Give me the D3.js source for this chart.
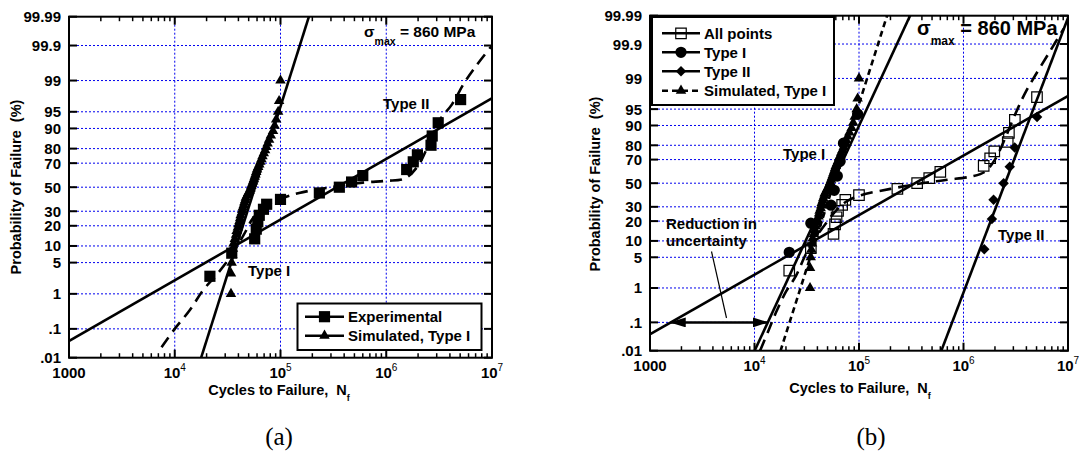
<!DOCTYPE html>
<html>
<head>
<meta charset="utf-8">
<script src="https://cdn.jsdelivr.net/npm/d3@7"></script>
<style>
  body { margin: 0; background: #fff; }
  svg text { font-family: "Liberation Sans", Arial, sans-serif; font-weight: bold; fill: #000; }
</style>
</head>
<body>
<svg id="chart" width="1079" height="454"></svg>
<script>
// ---- data ----
const probTicks = [0.01, 0.1, 1, 5, 10, 20, 30, 50, 70, 80, 90, 95, 99, 99.9, 99.99];
const probTickLabels = [".01", ".1", "1", "5", "10", "20", "30", "50", "70", "80", "90", "95", "99", "99.9", "99.99"];
const cycleDecades = [1e3, 1e4, 1e5, 1e6, 1e7];
const cycleExponents = ["1000", "4", "5", "6", "7"];

// experimental (all points), cycles and probability %
const expCycles = [21500, 34600, 57000, 59000, 61000, 63000, 69000, 74000, 100000, 233000,
                   360000, 470000, 600000, 1560000, 1800000, 1970000, 2650000, 2720000, 3100000, 5050000];
const expProb   = [2.6, 7.5, 13, 18, 22.5, 27, 31.5, 35.5, 39.5, 45,
                   50, 54.5, 60, 65, 71, 76, 82, 86.8, 92, 97.2];

// type I / type II subsets (panel b)
const typeICycles = [21500, 34600, 54000, 58000, 62000, 66000, 71000, 97000];
const typeIProb   = [6.25, 18.75, 31.25, 43.75, 56.25, 68.75, 81.25, 93.75];
const typeIICycles = [1580000, 1870000, 1940000, 2420000, 2770000, 3090000, 5060000];
const typeIIProb   = [7.1, 21.4, 35.7, 50, 64.3, 78.6, 92.9];

// simulated type I
const simProb = [1, 3, 5, 7, 9, 11, 13, 15, 17, 19, 21, 23, 25, 27, 29, 31, 33, 35, 37, 39,
                 41, 43, 45, 47, 49, 51, 53, 55, 57, 59, 61, 63, 65, 67, 69, 71, 73, 75, 77, 79,
                 81, 83, 85, 87, 89, 91, 93, 95, 97, 99];
const simCycles = [34000, 34000, 34500, 35000, 35500, 36000, 37000, 38000, 38500, 39500,
                   40000, 41000, 41500, 42000, 43000, 43500, 44000, 45000, 45500, 46500,
                   47000, 48500, 49500, 51000, 52000, 53000, 54000, 55000, 56000, 57000,
                   58000, 59000, 60000, 61500, 63000, 64500, 66000, 67500, 69500, 71500,
                   73500, 75500, 78000, 81000, 85000, 88000, 91000, 95000, 97000, 100000];

// lognormal fits [mean log10 N, sd log10 N]
const allPointsFit = [5.535, 0.756];
const simulatedFit = [4.759, 0.137];
const typeIFit = [4.745, 0.200];
const typeIIFit = [6.398, 0.164];

// bimodal fit curves (cycles, probability %)
const bimodalACycles = [7500, 10000, 13900, 18600, 24900, 34600, 45000, 55000, 70000, 100000, 150000,
                        300000, 600000, 1000000, 1500000, 2000000, 2500000, 3200000, 4200000, 5400000, 7100000, 10000000];
const bimodalAProb   = [0.024, 0.1, 0.37, 1.25, 2.8, 7, 15, 25, 33, 40, 45,
                        50, 54, 55.5, 57.5, 68, 82, 92.8, 96.5, 98.8, 99.6, 99.9];
const bimodalBCycles = [11300, 13500, 16000, 20000, 25000, 30000, 35000, 42000, 50000, 60000, 75000, 100000,
                        200000, 400000, 700000, 1200000, 1600000, 2000000, 2500000, 3100000, 4000000, 6800000, 9100000];
const bimodalBProb   = [0.01, 0.05, 0.2, 0.8, 2, 5, 9, 14, 20, 27, 34, 39,
                        45, 50, 53, 56, 60, 70, 84, 93.5, 98, 99.84, 99.97];

// ---- helpers ----
function probit(p) {
  const a = [-3.969683028665376e+01, 2.209460984245205e+02, -2.759285104469687e+02, 1.383577518672690e+02, -3.066479806614716e+01, 2.506628277459239e+00];
  const b = [-5.447609879822406e+01, 1.615858368580409e+02, -1.556989798598866e+02, 6.680131188771972e+01, -1.328068155288572e+01];
  const c = [-7.784894002430293e-03, -3.223964580411365e-01, -2.400758277161838e+00, -2.549732539343734e+00, 4.374664141464968e+00, 2.938163982698783e+00];
  const d = [7.784695709041462e-03, 3.224671290700398e-01, 2.445134137142996e+00, 3.754408661907416e+00];
  const pl = 0.02425;
  let q, r;
  if (p < pl) {
    q = Math.sqrt(-2 * Math.log(p));
    return (((((c[0]*q+c[1])*q+c[2])*q+c[3])*q+c[4])*q+c[5]) / ((((d[0]*q+d[1])*q+d[2])*q+d[3])*q+1);
  }
  if (p > 1 - pl) {
    q = Math.sqrt(-2 * Math.log(1 - p));
    return -(((((c[0]*q+c[1])*q+c[2])*q+c[3])*q+c[4])*q+c[5]) / ((((d[0]*q+d[1])*q+d[2])*q+d[3])*q+1);
  }
  q = p - 0.5; r = q * q;
  return (((((a[0]*r+a[1])*r+a[2])*r+a[3])*r+a[4])*r+a[5])*q / (((((b[0]*r+b[1])*r+b[2])*r+b[3])*r+b[4])*r+1);
}

const svg = d3.select("#chart");
const defs = svg.append("defs");
defs.append("marker").attr("id", "arrowhead")
    .attr("viewBox", "0 0 16 10").attr("refX", 15).attr("refY", 5)
    .attr("markerWidth", 16).attr("markerHeight", 10).attr("markerUnits", "userSpaceOnUse")
    .attr("orient", "auto-start-reverse")
  .append("path").attr("d", "M0,0 L16,5 L0,10 Z").attr("fill", "#000");

const zip = (xs, ps) => xs.map((n, i) => ({n: n, p: ps[i]}));

function drawPanel(cfg) {
  const g = svg.append("g");
  const x = d3.scaleLog().domain([1e3, 1e7]).range([cfg.x0, cfg.x1]);
  const z = d3.scaleLinear().domain([probit(0.0001), probit(0.9999)]).range([cfg.y1, cfg.y0]);
  const yp = pct => z(probit(pct / 100));

  defs.append("clipPath").attr("id", cfg.id + "-clip")
    .append("rect").attr("x", cfg.x0).attr("y", cfg.y0)
    .attr("width", cfg.x1 - cfg.x0).attr("height", cfg.y1 - cfg.y0);

  // grid
  g.selectAll(".hgrid").data(probTicks.slice(1, -1)).enter().append("line")
    .attr("x1", cfg.x0).attr("x2", cfg.x1)
    .attr("y1", d => yp(d)).attr("y2", d => yp(d))
    .attr("stroke", "#0000ee").attr("stroke-width", 1).attr("stroke-dasharray", "2,2");
  g.selectAll(".vgrid").data(cycleDecades.slice(1, -1)).enter().append("line")
    .attr("x1", d => x(d)).attr("x2", d => x(d))
    .attr("y1", cfg.y0).attr("y2", cfg.y1)
    .attr("stroke", "#0000ee").attr("stroke-width", 1).attr("stroke-dasharray", "2,2");

  // minor/major ticks
  const minor = [];
  cycleDecades.slice(0, -1).forEach(dec => { for (let k = 2; k <= 9; k++) minor.push(dec * k); });
  [cfg.y1, cfg.y0].forEach((yy, side) => {
    const dir = side === 0 ? -1 : 1;
    g.selectAll(null).data(minor).enter().append("line")
      .attr("x1", d => x(d)).attr("x2", d => x(d))
      .attr("y1", yy).attr("y2", yy + dir * 4.5)
      .attr("stroke", "#000").attr("stroke-width", 1.5);
    g.selectAll(null).data(cycleDecades).enter().append("line")
      .attr("x1", d => x(d)).attr("x2", d => x(d))
      .attr("y1", yy).attr("y2", yy + dir * 8)
      .attr("stroke", "#000").attr("stroke-width", 2);
  });
  [cfg.x0, cfg.x1].forEach((xx, side) => {
    const dir = side === 0 ? 1 : -1;
    g.selectAll(null).data(probTicks).enter().append("line")
      .attr("x1", xx).attr("x2", xx + dir * 8)
      .attr("y1", d => yp(d)).attr("y2", d => yp(d))
      .attr("stroke", "#000").attr("stroke-width", 2);
  });

  // tick labels
  g.selectAll(".ylab").data(probTicks).enter().append("text")
    .attr("x", cfg.x0 - 8).attr("y", d => yp(d) + 5.5)
    .attr("text-anchor", "end").style("font-size", cfg.tickFont + "px")
    .text((d, i) => probTickLabels[i]);
  const xl = g.selectAll(".xlab").data(cycleDecades).enter().append("text")
    .attr("x", d => x(d)).attr("y", cfg.y1 + 20)
    .attr("text-anchor", "middle").style("font-size", cfg.tickFont + "px");
  xl.each(function(d, i) {
    const t = d3.select(this);
    if (i === 0) { t.text(cycleExponents[0]); return; }
    t.append("tspan").text("10");
    t.append("tspan").attr("dy", -7).style("font-size", "10px").style("font-weight", "normal").text(cycleExponents[i]);
  });

  // axis titles
  const xt = g.append("text").attr("x", cfg.xTitle[0]).attr("y", cfg.xTitle[1])
    .attr("text-anchor", "middle").style("font-size", "14.5px");
  xt.append("tspan").text("Cycles to Failure,\u00a0 N");
  xt.append("tspan").attr("dy", 6).style("font-size", "9px").text("f");
  g.append("text").attr("transform", `translate(${cfg.yTitle[0]},${cfg.yTitle[1]}) rotate(-90)`)
    .attr("text-anchor", "middle").style("font-size", "14.5px")
    .text("Probability of Failure\u00a0 (%)");

  // fitted lines & curves
  const plot = g.append("g").attr("clip-path", `url(#${cfg.id}-clip)`);
  const fitLine = d3.line().x(d => x(Math.pow(10, d[0]))).y(d => z(d[1]));
  cfg.fits.forEach(f => {
    const zs = [-5, 5];
    plot.append("path")
      .attr("d", fitLine(zs.map(zz => [f.par[0] + f.par[1] * zz, zz])))
      .attr("fill", "none").attr("stroke", "#000").attr("stroke-width", 2.6)
      .attr("stroke-dasharray", f.dash || null);
  });
  const curve = d3.line().x(d => x(d.n)).y(d => yp(d.p)).curve(d3.curveCatmullRom);
  cfg.curves.forEach(c => {
    plot.append("path").attr("d", curve(c.data))
      .attr("fill", "none").attr("stroke", "#000").attr("stroke-width", 2.6)
      .attr("stroke-dasharray", c.dash);
  });

  // markers
  cfg.series.forEach(s => {
    g.selectAll(null).data(s.data).enter().append("path")
      .attr("d", d3.symbol().type(s.type).size(s.size)())
      .attr("transform", d => `translate(${x(d.n)},${yp(d.p)}) rotate(${s.rot || 0})`)
      .attr("fill", s.fill).attr("stroke", "#000").attr("stroke-width", s.sw || 0);
  });

  // frame
  g.append("rect").attr("x", cfg.x0).attr("y", cfg.y0)
    .attr("width", cfg.x1 - cfg.x0).attr("height", cfg.y1 - cfg.y0)
    .attr("fill", "none").attr("stroke", "#000").attr("stroke-width", 2);

  // sigma label
  const sg = g.append("text").attr("x", cfg.sigma[0]).attr("y", cfg.sigma[1]).style("font-size", cfg.sigma[2] + "px");
  sg.append("tspan").text("\u03c3");
  sg.append("tspan").attr("dy", cfg.sigma[2] * 0.5).style("font-size", cfg.sigma[3] + "px").text("max");
  sg.append("tspan").attr("dy", -cfg.sigma[2] * 0.5).text(" = 860 MPa");

  // legend
  const L = cfg.legend;
  g.append("rect").attr("x", L.box[0]).attr("y", L.box[1]).attr("width", L.box[2]).attr("height", L.box[3])
    .attr("fill", "#fff").attr("stroke", "#000").attr("stroke-width", 2);
  L.items.forEach((it, i) => {
    const yy = L.rows[i];
    g.append("line").attr("x1", L.line[0]).attr("x2", L.line[1]).attr("y1", yy).attr("y2", yy)
      .attr("stroke", "#000").attr("stroke-width", 2.6).attr("stroke-dasharray", it.dash || null);
    g.append("path").attr("d", d3.symbol().type(it.s.type).size(it.s.size)())
      .attr("transform", `translate(${(L.line[0] + L.line[1]) / 2},${yy}) rotate(${it.s.rot || 0})`)
      .attr("fill", it.s.fill).attr("stroke", "#000").attr("stroke-width", it.s.sw || 0);
    g.append("text").attr("x", L.text).attr("y", yy + 5.5).style("font-size", "15px").text(it.label);
  });

  // labels
  cfg.labels.forEach(l => {
    g.append("text").attr("x", l[0]).attr("y", l[1]).style("font-size", "15px").text(l[2]);
  });

  g.append("text").attr("x", cfg.caption[0]).attr("y", cfg.caption[1]).attr("text-anchor", "middle")
    .style("font-family", "'Liberation Serif', 'Times New Roman', serif").style("font-weight", "normal")
    .style("font-size", "25px").text(cfg.caption[2]);

  return {x: x, yp: yp, g: g};
}

const squareFilled = {type: d3.symbolSquare, size: 125, fill: "#000"};
const squareOpen = {type: d3.symbolSquare, size: 110, fill: "none", sw: 1.2};
const triangle = {type: d3.symbolTriangle, size: 48, fill: "#000"};
const circle = {type: d3.symbolCircle, size: 100, fill: "#000"};
const diamond = {type: d3.symbolSquare, size: 55, fill: "#000", rot: 45};

drawPanel({
  id: "pa", x0: 69, x1: 492, y0: 16.7, y1: 357.7, tickFont: 15,
  xTitle: [279, 395], yTitle: [20.5, 187],
  fits: [{par: allPointsFit}, {par: simulatedFit}],
  curves: [{data: zip(bimodalACycles, bimodalAProb), dash: "12,7"}],
  series: [Object.assign({data: zip(simCycles, simProb)}, triangle),
           Object.assign({data: zip(expCycles, expProb)}, squareFilled)],
  sigma: [364, 37, 15.5, 10.5],
  legend: {box: [297.5, 303.5, 184, 46.5], rows: [316.7, 335.7], line: [305, 344], text: 348,
           items: [{label: "Experimental", s: squareFilled}, {label: "Simulated, Type I", s: triangle}]},
  labels: [[248, 275.5, "Type I"], [383, 108.5, "Type II"]],
  caption: [279, 445, "(a)"]
});

const pb = drawPanel({
  id: "pb", x0: 650, x1: 1068, y0: 15.7, y1: 350.7, tickFont: 15,
  xTitle: [860, 393], yTitle: [600, 184],
  fits: [{par: allPointsFit}, {par: typeIFit}, {par: typeIIFit}, {par: simulatedFit, dash: "6,4"}],
  curves: [{data: zip(bimodalBCycles, bimodalBProb), dash: "12,7"}],
  series: [Object.assign({data: zip(simCycles, simProb)}, triangle),
           Object.assign({data: zip(expCycles, expProb)}, squareOpen),
           Object.assign({data: zip(typeICycles, typeIProb)}, circle),
           Object.assign({data: zip(typeIICycles, typeIIProb)}, diamond)],
  sigma: [917, 35, 20, 12],
  legend: {box: [652, 17, 182, 88], rows: [33.3, 52.3, 71.3, 90.7], line: [662, 700], text: 704,
           items: [{label: "All points", s: squareOpen}, {label: "Type I", s: circle},
                   {label: "Type II", s: diamond}, {label: "Simulated, Type I", s: triangle, dash: "6,4"}]},
  labels: [[783, 159, "Type I"], [998, 240, "Type II"], [666, 229, "Reduction in"], [666, 246, "uncertainty"]],
  caption: [871, 445, "(b)"]
});

// reduction in uncertainty arrow at 0.1 %
const z01 = probit(0.001);
const nLeft = Math.pow(10, allPointsFit[0] + allPointsFit[1] * z01);
const nRight = Math.pow(10, typeIFit[0] + typeIFit[1] * z01);
pb.g.append("line")
  .attr("x1", pb.x(nLeft)).attr("x2", pb.x(nRight))
  .attr("y1", pb.yp(0.1)).attr("y2", pb.yp(0.1))
  .attr("stroke", "#000").attr("stroke-width", 2.5)
  .attr("marker-start", "url(#arrowhead)").attr("marker-end", "url(#arrowhead)");
pb.g.append("line").attr("x1", 711.5).attr("y1", 251.5).attr("x2", 726.5).attr("y2", 318)
  .attr("stroke", "#000").attr("stroke-width", 1.2);
</script>
</body>
</html>
